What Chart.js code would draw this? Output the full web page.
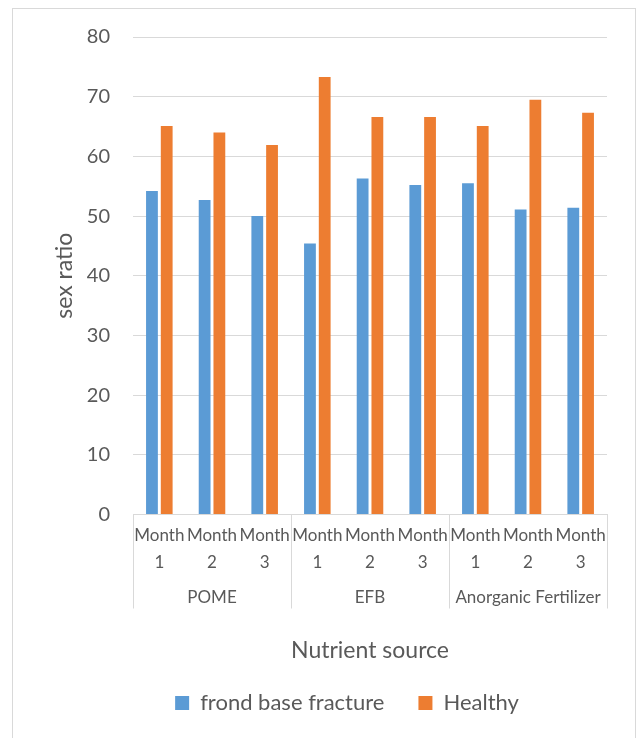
<!DOCTYPE html>
<html lang="en">
<head>
<meta charset="UTF-8">
<title>Sex ratio by nutrient source</title>
<script src="https://cdn.jsdelivr.net/npm/chart.js"></script>
<style>
  body { margin: 0; background: #fff; }
  #frame { position: absolute; left: 12px; top: 8px; width: 622px; height: 760px; border: 1px solid #d9d9d9; border-bottom: none; }
  #chart { position: absolute; left: 0; top: 0; }
</style>
</head>
<body>
<div id="frame"></div>
<canvas id="chart" width="636" height="738"></canvas>
<script>
// data
const groups = ['POME', 'EFB', 'Anorganic Fertilizer'];
const months = ['Month 1', 'Month 2', 'Month 3'];
const frondBaseFracture = [54.2, 52.7, 50.0, 45.4, 56.3, 55.2, 55.5, 51.1, 51.4];
const healthy = [65.1, 64.0, 61.9, 73.3, 66.6, 66.6, 65.1, 69.5, 67.3];
const yMin = 0, yMax = 80, yStep = 10;

const textColor = '#595959';
const gridColor = '#d9d9d9';
const fontFamily = 'Lato, "Open Sans", sans-serif';

// each category label is "Month" over the number
const labels = groups.flatMap(() => months.map(m => m.split(' ')));

// second row of the category axis: group names and separator lines
const groupAxis = {
    id: 'groupAxis',
    afterDraw(chart) {
        const x = chart.scales.x;
        const ctx = chart.ctx;
        const bottom = chart.chartArea.bottom;
        const n = labels.length;
        const per = months.length;
        const edge = i => {
            if (i === 0) return x.left;
            if (i === n) return x.right;
            return (x.getPixelForValue(i - 1) + x.getPixelForValue(i)) / 2;
        };
        ctx.save();
        ctx.strokeStyle = gridColor;
        ctx.lineWidth = 1;
        for (let g = 0; g <= groups.length; g++) {
            const px = Math.round(edge(g * per)) + 0.5;
            ctx.beginPath();
            ctx.moveTo(px, bottom);
            ctx.lineTo(px, bottom + 94);
            ctx.stroke();
        }
        ctx.fillStyle = textColor;
        ctx.font = '17px ' + fontFamily;
        ctx.textAlign = 'center';
        ctx.textBaseline = 'middle';
        groups.forEach((name, g) => {
            const cx = (edge(g * per) + edge((g + 1) * per)) / 2;
            ctx.fillText(name, cx, bottom + 83);
        });
        ctx.restore();
    }
};

new Chart(document.getElementById('chart'), {
    type: 'bar',
    data: {
        labels: labels,
        datasets: [
            {
                label: 'frond base fracture',
                data: frondBaseFracture,
                backgroundColor: '#5b9bd5',
                categoryPercentage: 0.56,
                barPercentage: 0.8
            },
            {
                label: 'Healthy',
                data: healthy,
                backgroundColor: '#ed7d31',
                categoryPercentage: 0.56,
                barPercentage: 0.8
            }
        ]
    },
    options: {
        responsive: false,
        animation: false,
        // left padding pushes the legend row to the right, y axis width makes up for it
        layout: { padding: { top: 37, right: 29, bottom: 14, left: 87 } },
        plugins: {
            legend: {
                position: 'bottom',
                labels: {
                    color: textColor,
                    font: { family: fontFamily, size: 22 },
                    boxWidth: 14,
                    boxHeight: 14,
                    padding: 34
                }
            },
            tooltip: { enabled: false }
        },
        scales: {
            x: {
                grid: { display: false },
                border: { color: gridColor },
                ticks: {
                    color: textColor,
                    font: { family: fontFamily, size: 17, lineHeight: 1.55 },
                    maxRotation: 0,
                    autoSkip: false,
                    padding: 0
                },
                title: {
                    display: true,
                    text: 'Nutrient source',
                    color: textColor,
                    font: { family: fontFamily, size: 23 },
                    padding: { top: 0, bottom: -6 }
                },
                afterFit(scale) { scale.height = 143.5; }
            },
            y: {
                min: yMin,
                max: yMax,
                grid: { color: gridColor, drawTicks: false },
                border: { display: false },
                ticks: {
                    stepSize: yStep,
                    color: textColor,
                    font: { family: fontFamily, size: 20 },
                    padding: 23
                },
                title: {
                    display: true,
                    text: 'sex ratio',
                    color: textColor,
                    font: { family: fontFamily, size: 23 },
                    padding: { top: -36, bottom: 0 }
                },
                afterFit(scale) { scale.width = 46; }
            }
        }
    },
    plugins: [groupAxis]
});
</script>
</body>
</html>
